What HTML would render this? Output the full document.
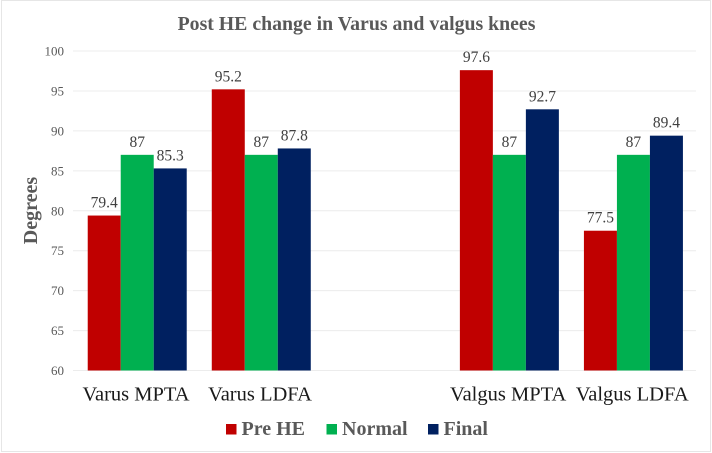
<!DOCTYPE html>
<html lang="en">
<head>
<meta charset="utf-8">
<title>Post HE change in Varus and valgus knees</title>
<style>
html,body{margin:0;padding:0;background:#fff;}
svg{display:block;font-family:"Liberation Serif",serif;}
</style>
</head>
<body>
<svg id="chart" xmlns="http://www.w3.org/2000/svg" width="712" height="453" viewBox="0 0 712 453"></svg>
<script>
const categories = ["Varus MPTA", "Varus LDFA", "", "Valgus MPTA", "Valgus LDFA"];
const seriesNames = ["Pre HE", "Normal", "Final"];
const preHe = [79.4, 95.2, null, 97.6, 77.5];
const normal = [87, 87, null, 87, 87];
const finalValues = [85.3, 87.8, null, 92.7, 89.4];
const yTicks = [60, 65, 70, 75, 80, 85, 90, 95, 100];

const seriesValues = [preHe, normal, finalValues];
const colors = ["#c00000", "#00b050", "#002060"];
const svg = document.getElementById("chart");
const NS = "http://www.w3.org/2000/svg";
const yMin = yTicks[0], yMax = yTicks[yTicks.length - 1];
const plotTop = 51, plotBottom = 370.5, plotLeft = 75.2, slotW = 124.05, barW = 33;

function yScale(v) { return plotBottom - (v - yMin) / (yMax - yMin) * (plotBottom - plotTop); }
function slotCenter(i) { return plotLeft + slotW * (i + 0.5); }
function barX(i, s) { return slotCenter(i) - barW * 1.5 + barW * s; }
function make(tag, attrs, text) {
  const el = document.createElementNS(NS, tag);
  for (const k in attrs) el.setAttribute(k, attrs[k]);
  if (text !== undefined) el.textContent = text;
  svg.appendChild(el);
  return el;
}

let el = make("rect", {x: 1.5, y: 0.5, width: 709, height: 451, fill: "#fff", stroke: "#e6e6e6", "stroke-width": 1});



el = make("text", {x: 356.5, y: 30, "text-anchor": "middle", "font-size": 19.8, "font-weight": "bold", fill: "#595959"}, "Post HE change in Varus and valgus knees");



yTicks.forEach(function (t) {
  const y = yScale(t);
  let g = make("line", {x1: 73, x2: 696, y1: y, y2: y, stroke: "#ececec", "stroke-width": 1});
  
  
  let l = make("text", {x: 64, y: y + 4.5, "text-anchor": "end", "font-size": 13, fill: "#595959"}, String(t));
  
  
});

el = make("text", {transform: "translate(37,210.5) rotate(-90)", "text-anchor": "middle", "font-size": 20, "font-weight": "bold", fill: "#595959"}, "Degrees");



seriesValues.forEach(function (vals, s) {
  vals.forEach(function (v, i) {
    if (v === null) return;
    const y = yScale(v);
    const bar = make("rect", {x: barX(i, s), y: y, width: barW, height: plotBottom - y, fill: colors[s]});
    
    
    const lab = make("text", {x: barX(i, s) + barW / 2, y: y - 8, "text-anchor": "middle", "font-size": 15.5, fill: "#404040"}, String(v));
    
    
  });
});

categories.forEach(function (c, i) {
  if (!c) return;
  const cat = make("text", {x: slotCenter(i) - 1.2, y: 400.5, "text-anchor": "middle", "font-size": 20.5, fill: "#1a1a1a"}, c);
  
  
});

const legendSwatchX = [226, 326.5, 428];
seriesNames.forEach(function (n, s) {
  const sw = make("rect", {x: legendSwatchX[s], y: 424, width: 10.5, height: 10.5, fill: colors[s]});
  
  
  const tx = make("text", {x: legendSwatchX[s] + 15.5, y: 435, "font-size": 20, "font-weight": "bold", fill: "#595959"}, n);
  
  
});
</script>
</body>
</html>
